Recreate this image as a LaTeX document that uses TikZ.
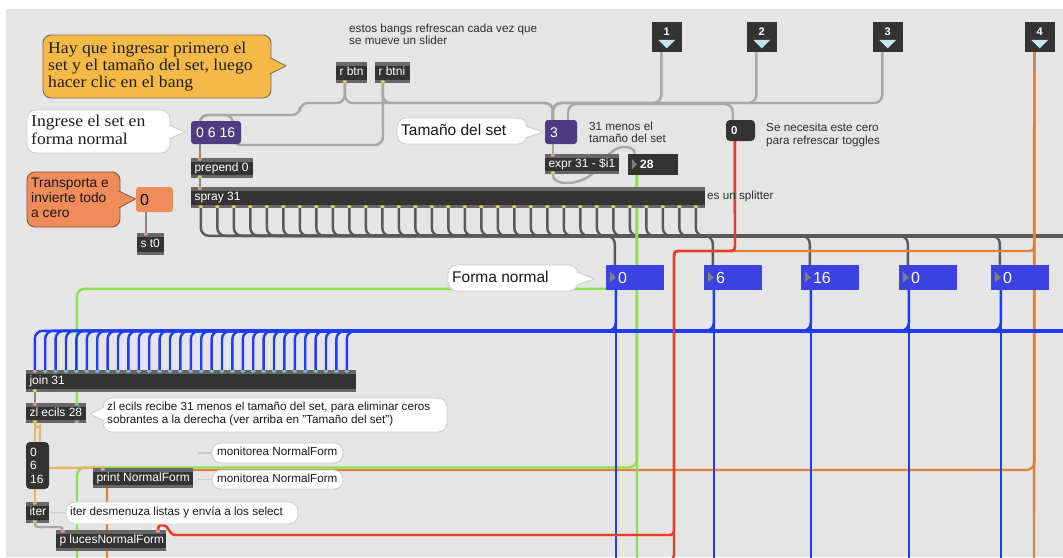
\documentclass[tikz,border=0pt]{standalone}
\usepackage{fontspec}
\setmainfont{Liberation Serif}
\setsansfont{Liberation Sans}
\newfontfamily\bubbleserif[FakeStretch=1.07]{Liberation Serif}
\usetikzlibrary{fit}

\definecolor{canvas}{HTML}{E5E5E5}
\definecolor{objbody}{HTML}{333333}
\definecolor{objedge}{HTML}{676767}
\definecolor{cordlight}{HTML}{A8A8A8}
\definecolor{cordmid}{HTML}{8A8A8A}
\definecolor{corddark}{HTML}{595959}
\definecolor{cordblue}{HTML}{1E3CFF}
\definecolor{cordgreen}{HTML}{8FE04F}
\definecolor{cordred}{HTML}{EC3A2D}
\definecolor{cordorange}{HTML}{E0823B}
\definecolor{cordtan}{HTML}{E8B566}
\definecolor{setpurple}{HTML}{4E3C82}
\definecolor{salmon}{HTML}{F08B5A}
\definecolor{goldfill}{HTML}{F4B946}
\definecolor{goldedge}{HTML}{7E6C50}
\definecolor{salmonedge}{HTML}{87573F}
\definecolor{formblue}{HTML}{3C41E2}
\definecolor{bangtri}{HTML}{C4E4EE}
\definecolor{bubbleedge}{HTML}{CCCCCC}
\definecolor{notetext}{HTML}{2E2E2E}
\definecolor{portin}{HTML}{E3978C}
\definecolor{portout}{HTML}{D5D26E}
\definecolor{portjoin}{HTML}{7DBAC3}
\definecolor{arrowgray}{HTML}{808080}

\pgfdeclarelayer{ground}
\pgfdeclarelayer{cords}
\pgfsetlayers{ground,cords,main}

\newcommand\objfont{\sffamily\fontsize{12}{14}\selectfont}
\newcommand\notefont{\sffamily\fontsize{11.7}{13.5}\selectfont}

% a Max object box: name, x1, y1, x2, y2, text
\newcommand\maxobj[6]{%
  \node[objbox, fit={(#2,#3) (#4,#5)}] (#1) {};
  \node[objtext] (#1-label) at ([xshift=3.5pt]#1.west) {#6};}
% speech-bubble pointer: base x, base y1, base y2, tip x, tip y, fill, edge
\newcommand\pointer[7]{%
  \fill[#6] (#1,#2) -- (#4,#5) -- (#1,#3) -- cycle;
  \draw[#7, line width=0.8pt, line join=round] (#1,#2) -- (#4,#5) -- (#1,#3);}
% inlet / outlet dot
\newcommand\port[2]{\fill[#1] (#2) ellipse [x radius=2.3pt, y radius=1.4pt];}

\tikzset{
  cord/.style={line width=2.4pt, rounded corners=8pt},
  lightcord/.style={cord, draw=cordlight},
  midcord/.style={cord, draw=cordmid},
  darkcord/.style={cord, draw=corddark},
  bluecord/.style={cord, draw=cordblue},
  greencord/.style={cord, draw=cordgreen},
  redcord/.style={cord, draw=cordred},
  orangecord/.style={cord, draw=cordorange},
  tancord/.style={cord, draw=cordtan},
  objbox/.style={fill=objbody, draw=none, inner sep=0pt, path picture={
      \fill[objedge] (path picture bounding box.north west) rectangle ([yshift=-3.5pt]path picture bounding box.north east);
      \fill[objedge] (path picture bounding box.south west) rectangle ([yshift=3.5pt]path picture bounding box.south east);}},
  objtext/.style={text=white, font=\objfont, inner sep=0pt, anchor=west, text height=8.6pt, text depth=2.4pt},
  notetxt/.style={text=notetext, font=\notefont, inner sep=0pt, anchor=west, text height=8.2pt, text depth=2.4pt},
  bubbletxt/.style={text=black!90, font=\notefont, inner sep=0pt, anchor=west, text height=8.2pt, text depth=2.4pt},
  serifbig/.style={text=black!88, font=\bubbleserif\fontsize{16.5}{18}\selectfont, inner sep=0pt, anchor=west, text height=11pt, text depth=3.5pt},
  numtxt/.style={text=white, font=\sffamily\fontsize{14}{16}\selectfont, inner sep=0pt, anchor=west, text height=10pt, text depth=0pt},
  goldbubble/.style={fill=goldfill, draw=goldedge, line width=0.9pt, rounded corners=8pt, inner sep=0pt},
  salmonbubble/.style={fill=salmon, draw=salmonedge, line width=0.9pt, rounded corners=8pt, inner sep=0pt},
  whitebubble/.style={fill=white, draw=bubbleedge, line width=0.8pt, rounded corners=9pt, inner sep=0pt},
  bubbletail/.style={draw=bubbleedge, line width=1.3pt},
}

\begin{document}
\begin{tikzpicture}[x=1pt,y=-1pt]
\useasboundingbox (0,0) rectangle (1063,557);
\begin{pgfonlayer}{ground}
  \fill[white] (0,0) rectangle (1063,557);
  \fill[canvas] (6,9) rectangle (1063,557);
\end{pgfonlayer}

% ---------- comments and bubbles ----------
\node[goldbubble, fit={(43,35) (271,98)}] (howto) {};
\pointer{269.8}{57.5}{74}{286}{66}{goldfill}{goldedge}
\node[serifbig] (howto-l1) at (48,49.5) {Hay que ingresar primero el};
\node[serifbig] (howto-l2) at (48,66.5) {set y el tamaño del set, luego};
\node[serifbig] (howto-l3) at (48,84) {hacer clic en el bang};

\node[notetxt] (bangs-l1) at (349,29.5) {estos bangs refrescan cada vez que};
\node[notetxt] (bangs-l2) at (349,42) {se mueve un slider};

\node[whitebubble, fit={(27,110) (170,153)}] (setnote) {};
\pointer{168.8}{125}{139}{185}{132}{white}{bubbleedge}
\node[serifbig] (setnote-l1) at (31,123) {Ingrese el set en};
\node[serifbig] (setnote-l2) at (31,141) {forma normal};

\node[salmonbubble, fit={(27,172) (120,227)}] (zeronote) {};
\pointer{118.8}{191}{208}{135.5}{199}{salmon}{salmonedge}
\node[bubbletxt, font=\sffamily\fontsize{13.8}{16}\selectfont, text height=9.8pt, text depth=2.8pt] (zeronote-l1) at (31,184) {Transporta e};
\node[bubbletxt, font=\sffamily\fontsize{13.8}{16}\selectfont, text height=9.8pt, text depth=2.8pt] (zeronote-l2) at (31,199) {invierte todo};
\node[bubbletxt, font=\sffamily\fontsize{13.8}{16}\selectfont, text height=9.8pt, text depth=2.8pt] (zeronote-l3) at (31,214) {a cero};

\node[whitebubble, fit={(397,118) (527,144)}] (sizenote) {};
\pointer{525.8}{126}{138}{543}{132}{white}{bubbleedge}
\node[bubbletxt, font=\sffamily\fontsize{15.5}{18}\selectfont, text height=11pt, text depth=3pt] (sizenote-t) at (401,131) {Tamaño del set};

\node[notetxt] (minus-l1) at (589,127.5) {31 menos el};
\node[notetxt] (minus-l2) at (589,140) {tamaño del set};
\node[notetxt] (zeronote2-l1) at (766,129) {Se necesita este cero};
\node[notetxt] (zeronote2-l2) at (766,142) {para refrescar toggles};
\node[notetxt] (splitnote) at (707,197) {es un splitter};

\node[whitebubble, fit={(448,265) (578,291)}] (formnote) {};
\pointer{576.8}{272}{285}{594.5}{279}{white}{bubbleedge}
\node[bubbletxt, font=\sffamily\fontsize{15.5}{18}\selectfont, text height=11pt, text depth=3pt] (formnote-t) at (452,278) {Forma normal};

\node[whitebubble, fit={(103,398) (447,432)}] (zlnote) {};
\pointer{104.2}{407}{421}{90}{414}{white}{bubbleedge}
\node[bubbletxt] (zlnote-l1) at (107,408) {zl ecils recibe 31 menos el tamaño del set, para eliminar ceros};
\node[bubbletxt] (zlnote-l2) at (107,421) {sobrantes a la derecha (ver arriba en "Tamaño del set")};

\node[whitebubble, fit={(212,443) (343,463)}] (mon1) {};
\draw[bubbletail] (198,453) -- (mon1.west);
\node[bubbletxt] (mon1-t) at (217,453) {monitorea NormalForm};
\node[whitebubble, fit={(212,470) (343,489)}] (mon2) {};
\draw[bubbletail] (198,479.5) -- (mon2.west);
\node[bubbletxt] (mon2-t) at (217,479.5) {monitorea NormalForm};

% ---------- bangs ----------
\foreach \nm/\x/\lbl in {bang1/652/1, bang2/747/2, bang3/873/3, bang4/1025/4} {
  \node[fill=objbody, inner sep=0pt, fit={(\x,22) (\x+29.5,52)}] (\nm) {};
  \node[text=white, font=\sffamily\bfseries\fontsize{11}{12}\selectfont, inner sep=0pt] (\nm-num) at ([yshift=-10pt]\nm.north) {\lbl};
  \fill[bangtri] ([xshift=-8.5pt,yshift=-18pt]\nm.north) -- ([xshift=8.5pt,yshift=-18pt]\nm.north) -- ([yshift=-26.5pt]\nm.north) -- cycle;
  \coordinate (\nm-out) at ([xshift=9.5pt]\nm.south west);
}

% ---------- objects ----------
\maxobj{rbtn}{336}{62}{367}{83}{r btn}
\maxobj{rbtni}{375}{62}{410}{83}{r btni}
\maxobj{prepend}{191}{158}{253}{178}{prepend 0}
\maxobj{spray}{191}{187}{705}{208}{spray 31}
\maxobj{sendt}{137}{233}{164}{255}{s t0}
\maxobj{expr}{545}{154}{619}{174}{expr 31 - \$i1}
\maxobj{join}{26}{370}{356}{392}{join 31}
\maxobj{zl}{26}{403}{86}{423}{zl ecils 28}
\maxobj{print}{93}{468}{193}{488}{print NormalForm}
\maxobj{iter}{26}{502}{49}{523}{iter}
\maxobj{luces}{56}{530}{166}{551}{p lucesNormalForm}

\node[whitebubble, fit={(66,502) (298,524)}] (iternote) {};
\draw[bubbletail] (iter.east) -- (iternote.west);
\node[bubbletxt] (iternote-t) at (70,513) {iter desmenuza listas y envía a los select};

% ---------- number and message boxes ----------
\node[fill=setpurple, rounded corners=3pt, inner sep=0pt, fit={(191,121) (241,144)}] (setmsg) {};
\node[numtxt] (setmsg-val) at (196,132.5) {0 6 16};
\node[fill=setpurple, rounded corners=3pt, inner sep=0pt, fit={(545,120) (577,144)}] (sizebox) {};
\node[numtxt] (sizebox-val) at (550,132) {3};
\node[fill=objbody, inner sep=0pt, fit={(628,154) (678,175)}] (diffbox) {};
\fill[arrowgray] ([xshift=4pt,yshift=-5pt]diffbox.north west) -- ([xshift=9pt,yshift=-10.5pt]diffbox.north west) -- ([xshift=4pt,yshift=-16pt]diffbox.north west) -- cycle;
\node[numtxt, font=\sffamily\bfseries\fontsize{12}{14}\selectfont, text height=8.6pt] (diffbox-val) at (640,164.5) {28};
\node[fill=objbody, rounded corners=4pt, inner sep=0pt, fit={(726,120) (755,141)}] (zerobox) {};
\node[numtxt, font=\sffamily\bfseries\fontsize{11.5}{13}\selectfont, text height=8.2pt] (zerobox-val) at (731,130.5) {0};
\node[fill=salmon, rounded corners=3pt, inner sep=0pt, fit={(136,187) (173,212)}] (tzero) {};
\node[numtxt, text=black, font=\sffamily\fontsize{16}{18}\selectfont, text height=11.5pt] (tzero-val) at (140,199.5) {0};
\node[fill=objbody, rounded corners=4pt, inner sep=0pt, fit={(26,442) (49,489)}] (listmsg) {};
\node[numtxt, font=\sffamily\fontsize{12}{14}\selectfont, text height=8.6pt] (listmsg-a) at (30,452) {0};
\node[numtxt, font=\sffamily\fontsize{12}{14}\selectfont, text height=8.6pt] (listmsg-b) at (30,465.5) {6};
\node[numtxt, font=\sffamily\fontsize{12}{14}\selectfont, text height=8.6pt] (listmsg-c) at (30,479) {16};

\foreach \i/\x/\v in {0/606/0, 1/704/6, 2/801/16, 3/899/0, 4/991/0} {
  \node[fill=formblue, inner sep=0pt, fit={(\x,265) (\x+57.5,290)}] (form\i) {};
  \fill[arrowgray] ([xshift=4pt,yshift=-7pt]form\i.north west) -- ([xshift=10pt,yshift=-12.5pt]form\i.north west) -- ([xshift=4pt,yshift=-18pt]form\i.north west) -- cycle;
  \node[numtxt, font=\sffamily\fontsize{16}{18}\selectfont, text height=11.5pt] (form\i-val) at ([xshift=12pt]form\i.west) {\v};
  \coordinate (form\i-in) at ([xshift=9pt]form\i.north west);
  \coordinate (form\i-out) at ([xshift=10pt]form\i.south west);
  \coordinate (form\i-foot) at ([yshift=-300pt]form\i-out);
}

% ---------- inlets and outlets ----------
\coordinate (rbtn-out) at ([xshift=9pt]rbtn.south west);
\coordinate (rbtni-out) at ([xshift=8pt]rbtni.south west);
\coordinate (set-in) at ([xshift=9pt]setmsg.north west);
\coordinate (set-out) at ([xshift=9pt]setmsg.south west);
\coordinate (prepend-in) at ([xshift=9pt]prepend.north west);
\coordinate (prepend-out) at ([xshift=9pt]prepend.south west);
\coordinate (spray-in) at ([xshift=9pt]spray.north west);
\foreach \i in {0,...,30} {\coordinate (spray-o\i) at ([xshift={(10+16.5*\i)*1pt}]spray.south west);}
\coordinate (size-in) at ([xshift=8pt]sizebox.north west);
\coordinate (size-out) at ([xshift=8pt]sizebox.south west);
\coordinate (expr-in) at ([xshift=8pt]expr.north west);
\coordinate (expr-out) at ([xshift=8pt]expr.south west);
\coordinate (diff-in) at ([xshift=7pt]diffbox.north west);
\coordinate (diff-out) at ([xshift=9pt]diffbox.south west);
\coordinate (zero-in) at ([xshift=7pt]zerobox.north west);
\coordinate (zero-out) at ([xshift=9pt]zerobox.south west);
\coordinate (tzero-out) at ([xshift=10pt]tzero.south west);
\coordinate (sendt-in) at ([xshift=9pt]sendt.north west);
\foreach \i in {0,...,30} {\coordinate (join-i\i) at ([xshift={(9+10.4*\i)*1pt}]join.north west);}
\coordinate (join-out) at ([xshift=9pt]join.south west);
\coordinate (zl-in0) at ([xshift=9pt]zl.north west);
\coordinate (zl-in1) at ([xshift=51pt]zl.north west);
\coordinate (zl-out) at ([xshift=9pt]zl.south west);
\coordinate (zl-out1) at ([xshift=51pt]zl.south west);
\coordinate (list-in) at ([xshift=9pt]listmsg.north west);
\coordinate (list-out) at ([xshift=9pt]listmsg.south west);
\coordinate (print-in) at ([xshift=10pt]print.north west);
\coordinate (iter-in) at ([xshift=9pt]iter.north west);
\coordinate (iter-out) at ([xshift=9pt]iter.south west);
\coordinate (luces-in0) at ([xshift=7pt]luces.north west);
\coordinate (luces-in1) at ([xshift=102pt]luces.north west);
% loose ends leaving the visible canvas
\coordinate (offright-gray) at (1075,236);
\coordinate (offright-blue) at (1075,331);
\coordinate (greenfoot) at (77,580);
\coordinate (greenright) at (637,580);
\coordinate (orangefoot) at (107,580);
\coordinate (orangeright) at (1034,580);
\coordinate (redfoot) at (600,560);

\port{portout}{[yshift=1.6pt]rbtn-out}
\port{portout}{[yshift=1.6pt]rbtni-out}
\port{portin}{[yshift=-1.6pt]prepend-in}
\port{portout}{[yshift=1.6pt]prepend-out}
\port{portin}{[yshift=-1.6pt]spray-in}
\foreach \i in {0,...,30} {\port{portout}{[yshift=1.6pt]spray-o\i}}
\port{portin}{[yshift=-1.6pt]expr-in}
\port{portout}{[yshift=1.6pt]expr-out}
\port{portin}{[yshift=-1.6pt]sendt-in}
\port{portin}{[yshift=-1.6pt]join-i0}
\foreach \i in {1,...,30} {\port{portjoin}{[yshift=-1.6pt]join-i\i}}
\port{portout}{[yshift=1.6pt]join-out}
\port{portin}{[yshift=-1.6pt]zl-in0}
\port{portjoin}{[yshift=-1.6pt]zl-in1}
\port{portout}{[yshift=1.6pt]zl-out}
\port{cordlight}{[yshift=1.6pt]zl-out1}
\port{portin}{[yshift=-1.6pt]print-in}
\port{portin}{[yshift=-1.6pt]iter-in}
\port{portout}{[yshift=1.6pt]iter-out}
\port{portin}{[yshift=-1.6pt]luces-in0}
\port{portin}{[yshift=-1.6pt]luces-in1}

% ---------- patch cords ----------
\begin{pgfonlayer}{cords}
  % refresh bangs and receivers
  \draw[lightcord] (bang1-out) |- (553,103) -- (size-in);
  \draw[lightcord] (bang2-out) |- (553,103) -- (size-in);
  \draw[lightcord] (bang3-out) |- (553,103) -- (size-in);
  \draw[lightcord] (rbtn-out) |- (553,103) -- (size-in);
  \draw[lightcord] (rbtni-out) |- (553,103) -- (size-in);
  \draw[lightcord] (rbtn-out) |- (300,103) -- (300,115) -| (set-in);
  \draw[lightcord] (rbtni-out) -- (383,145) -- (233,145) -- (233,115) -| (set-in);
  \draw[lightcord] ([yshift=3pt]size-out) -- (568,141) -- (568,104) -| (zero-in);
  \draw[lightcord] (size-out) -- (expr-in);
  \draw[lightcord, sharp corners] (expr-out) .. controls (552,186) and (578,186) .. (592,174)
        .. controls (604,160) and (612,147) .. (624,147)
        .. controls (632,147) and (635,150) .. (diff-in);
  \draw[midcord] (set-out) -- (prepend-in);
  \draw[midcord] (prepend-out) -- (spray-in);
  \draw[midcord] (tzero-out) -- (sendt-in);
  \draw[midcord] (join-out) -- (zl-in0);
  \draw[lightcord, sharp corners] (iter-out) .. controls (35,528) and (38,527) .. (45,527) -- (56,527)
        .. controls (62,527) and (63,528) .. (luces-in0);

  % splitter outputs
  \foreach \i in {0,...,4} {\draw[darkcord] (spray-o\i) |- ([yshift=29pt]form\i-in) -- (form\i-in);}
  \foreach \i in {5,...,30} {\draw[darkcord] (spray-o\i) |- (offright-gray);}

  % slider 4
  \draw[orangecord, sharp corners] (bang4-out) -- (1034,243) .. controls (1034,251) .. (1026,251)
        -- (682,251) .. controls (674,251) .. (674,259) -- (674,527)
        .. controls (674,535) .. (666,535) -- (176,535)
        .. controls (168,535) and (169,525) .. (163,525)
        .. controls (158.5,525) and (158,527) .. (luces-in1);
  \draw[orangecord] (bang4-out) |- (107,470) -- (orangefoot);
  \draw[orangecord] (bang4-out) -- (orangeright);

  % 31 minus the set size
  \draw[greencord] (diff-out) |- ([yshift=114pt]zl-in1) -- (zl-in1);
  \draw[greencord] (diff-out) |- (77,467.5) -- (greenfoot);
  \draw[greencord] (diff-out) -- (greenright);

  % number boxes into join
  \foreach \i in {0,...,4} {\draw[bluecord] (form\i-out) |- ([yshift=39pt]join-i\i) -- (join-i\i);}
  \foreach \i in {5,...,30} {\draw[bluecord] (offright-blue) -| (join-i\i);}
  \foreach \i in {0,...,4} {\draw[bluecord] (form\i-out) -- (form\i-foot);}

  % trimmed list
  \draw[tancord] (zl-out) -- (list-in);
  \draw[tancord] (zl-out) .. controls (35,429) and (40,427) .. (40,434) -- (40,468) -- (print-in);
  \draw[tancord] (list-out) -- (iter-in);

  % refreshing zero
  \draw[redcord, sharp corners] (zero-out) -- (735,243) .. controls (735,251) .. (727,251)
        -- (682,251) .. controls (674,251) .. (674,259) -- (674,527)
        .. controls (674,535) .. (666,535) -- (176,535)
        .. controls (168,535) and (169,525) .. (163,525)
        .. controls (158.5,525) and (158,527) .. (luces-in1);
  \draw[redcord, sharp corners] (zero-out) -- (735,243) .. controls (735,251) .. (727,251)
        -- (682,251) .. controls (674,251) .. (674,259) -- (674,550)
        .. controls (674,560) .. (664,560) -- (redfoot);
\end{pgfonlayer}
\end{tikzpicture}
\end{document}
